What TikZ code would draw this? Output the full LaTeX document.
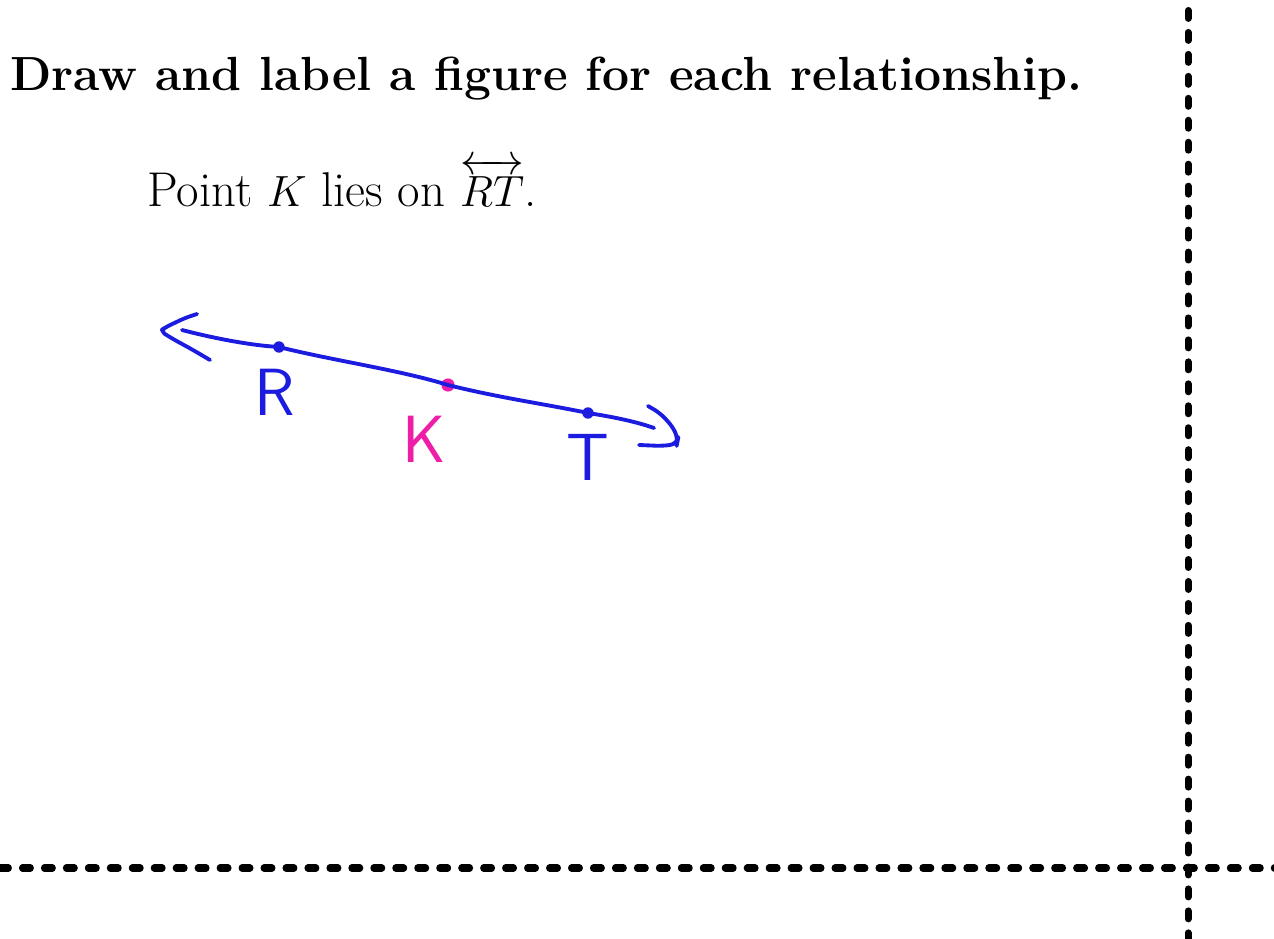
\documentclass[tikz,border=0pt]{standalone}
\usepackage{amsmath,amssymb}
\usepackage{tikz}
\usetikzlibrary{positioning}
\definecolor{penblue}{RGB}{28,28,225}
\definecolor{penpink}{RGB}{238,30,168}

\begin{document}
\begin{tikzpicture}[x=0.02cm, y=-0.02cm,
  ttl/.style={anchor=base west, inner sep=0pt, font=\fontsize{27.3}{31}\selectfont\bfseries},
  stmt/.style={anchor=base west, inner sep=0pt, font=\fontsize{27.8}{32}\selectfont},
  pen/.style={draw=penblue, line width=2.2pt, line cap=round, line join=round},
  bdot/.style={circle, fill=penblue, inner sep=0pt, minimum size=6.5pt},
  pdot/.style={circle, fill=penpink, inner sep=0pt, minimum size=7.5pt},
  hlbl/.style={inner sep=0pt, font=\fontsize{38}{40}\selectfont\sffamily},
  divider/.style={draw=black, line width=4pt, line cap=round, dash pattern=on 4.5pt off 8pt}
]
\useasboundingbox (0,0) rectangle (1274,939);

\node[ttl] (title) at (10,91) {Draw and label a figure for each relationship.};
\node[stmt] (task) at (147,207) {Point $K$ lies on $\overleftrightarrow{\mathstrut RT}$.};

\node[bdot] (R) at (279,347) {};
\node[pdot] (K) at (448,385) {};
\node[bdot] (T) at (588,413) {};
\coordinate (lstart) at (182,330);
\coordinate (lend) at (654,428);

\draw[pen] (lstart) .. controls (205,336) and (245,345) .. (R.center)
  .. controls (330,360) and (400,370) .. (K.center)
  .. controls (500,398) and (545,404) .. (T.center)
  .. controls (620,418) and (640,423) .. (lend);

\coordinate (ltip) at (160,331);
\coordinate (lup) at (197,314);
\coordinate (llow) at (210,360);
\draw[pen, rounded corners=3pt] (lup) -- (185,318) -- (166,327) -- (ltip)
  -- (173,339) -- (193,350) -- (llow);

\coordinate (rup) at (648,406);
\coordinate (rtip) at (678,439);
\coordinate (rlow) at (639,445);
\draw[pen, rounded corners=4pt] (rup) -- (660,413) -- (673,427) -- (rtip)
  -- (677,444) -- (663,446) -- (rlow);

\node[hlbl, text=penblue] (lblR) at (275,392) {R};
\node[hlbl, text=penpink] (lblK) at (424,439) {K};
\node[hlbl, text=penblue] (lblT) at (588,457) {T};

\coordinate (vtop) at (1188,10.5);
\coordinate (vbot) at (1188,960);
\coordinate (hleft) at (0.5,868);
\coordinate (hright) at (1290,868);
\draw[divider] (vtop) -- (vbot);
\draw[divider] (hleft) -- (hright);

\end{tikzpicture}
\end{document}
